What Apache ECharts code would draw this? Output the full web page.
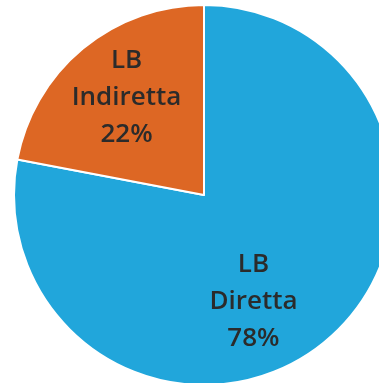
<!DOCTYPE html>
<html><head><meta charset="utf-8">
<script src="https://cdn.jsdelivr.net/npm/echarts@6/dist/echarts.min.js"></script>
<style>html,body{margin:0;padding:0;background:#fff}#c{width:379px;height:383px}</style>
</head><body><div id="c"></div>
<script>
var categories = ['LB\nDiretta', 'LB\nIndiretta'];
var values = [78, 22];
var colors = ['#21a6db', '#dd6724'];
var labelOffsets = [[-13, 31], [-15, -22]];

var chart = echarts.init(document.getElementById('c'));
chart.setOption({
  backgroundColor: '#ffffff',
  animation: false,
  series: [{
    type: 'pie',
    center: [204, 195],
    radius: 190,
    startAngle: 90,
    clockwise: true,
    itemStyle: { borderColor: '#ffffff', borderWidth: 2 },
    label: {
      position: 'inside',
      formatter: '{b}\n{d}%',
      fontFamily: 'Open Sans',
      fontWeight: 600,
      fontSize: 26,
      lineHeight: 37,
      color: '#2b2b2b'
    },
    labelLine: { show: false },
    data: categories.map(function (c, i) {
      return { name: c, value: values[i], itemStyle: { color: colors[i] }, label: { offset: labelOffsets[i] } };
    })
  }]
});
</script></body></html>
